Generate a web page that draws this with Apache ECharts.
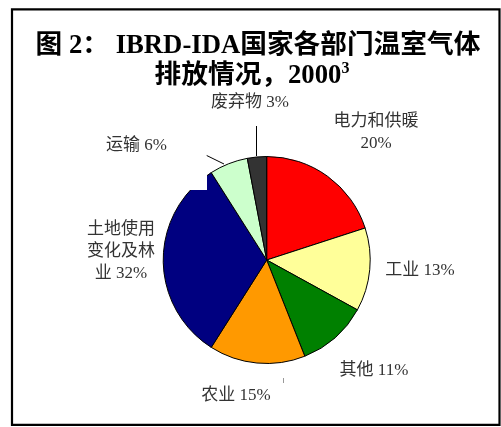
<!DOCTYPE html>
<html>
<head>
<meta charset="utf-8">
<script src="https://cdn.jsdelivr.net/npm/echarts@6/dist/echarts.min.js"></script>
<style>html,body{margin:0;padding:0;background:#fff;}#c{width:501px;height:427px;}</style>
</head>
<body>
<div id="c"></div>
<script>
// Data
var categories = ['电力和供暖', '工业', '其他', '农业', '土地使用变化及林业', '运输', '废弃物'];
var shares = [20, 13, 11, 15, 32, 6, 3];
var labelTexts = ['电力和供暖\n', '工业 ', '其他 ', '农业 ', '土地使用\n变化及林\n业 ', '运输 ', '废弃物 '];
var sliceColors = ['#FF0000', '#FFFF99', '#008000', '#FF9900', '#000080', '#CCFFCC', '#333333'];

// Label anchor positions (layout only)
var labelPos = [[376, 132.5], [420, 271], [374, 371], [236, 396], [121, 251.5], [136.5, 146], [250, 102.5]];

var chart = echarts.init(document.getElementById('c'), null, {renderer: 'canvas'});
var FONT = '"Liberation Serif", "Noto Sans CJK SC", serif';
var option = {
  animation: false,
  backgroundColor: '#fff',
  graphic: [
    {type: 'rect', z: 0, shape: {x: 12, y: 9.3, width: 487.5, height: 415.5},
     style: {fill: 'none', stroke: '#000', lineWidth: 2.2}},
    {type: 'text', z: 10, x: 258, y: 46,
     style: {text: '图 2： IBRD-IDA国家各部门温室气体', font: 'bold 26.7px ' + FONT,
             fill: '#000', align: 'center', verticalAlign: 'middle'}},
    {type: 'text', z: 10, x: 252, y: 76,
     style: {text: '排放情况，2000{s|3}', font: 'bold 26.7px ' + FONT, fill: '#000',
             align: 'center', verticalAlign: 'middle', lineHeight: 30,
             rich: {s: {fontSize: 16, fontWeight: 'bold', fontFamily: FONT, fill: '#000', verticalAlign: 'top', lineHeight: 30, padding: [0, 0, 14, 0]}}}},
    {type: 'rect', z: 50, shape: {x: 176, y: 160, width: 31, height: 30}, style: {fill: '#fff'}},
    {type: 'line', z: 60, shape: {x1: 256.5, y1: 126, x2: 256.5, y2: 156}, style: {stroke: '#000', lineWidth: 1}},
    {type: 'line', z: 60, shape: {x1: 206.7, y1: 155.5, x2: 224, y2: 164}, style: {stroke: '#000', lineWidth: 1}},
    {type: 'line', z: 60, shape: {x1: 283.5, y1: 378, x2: 283.5, y2: 383}, style: {stroke: '#999', lineWidth: 1}}
  ],
  series: [{
    type: 'pie',
    z: 2,
    center: [266.7, 260],
    radius: 103.5,
    startAngle: 90,
    clockwise: true,
    avoidLabelOverlap: false,
    itemStyle: {borderColor: '#000', borderWidth: 1},
    emphasis: {disabled: true},
    label: {
      show: true,
      position: 'outside',
      fontFamily: FONT,
      fontSize: 17,
      color: '#333',
      lineHeight: 22,
      align: 'center',
      formatter: function (p) { return labelTexts[p.dataIndex] + p.value + '%'; }
    },
    labelLine: {show: false},
    labelLayout: function (params) {
      var pos = labelPos[params.dataIndex];
      return {x: pos[0], y: pos[1], align: 'center', verticalAlign: 'middle', hideOverlap: false};
    },
    data: categories.map(function (c, i) {
      return {name: c, value: shares[i], itemStyle: {color: sliceColors[i]}};
    })
  }]
};
chart.setOption(option);
</script>
</body>
</html>
